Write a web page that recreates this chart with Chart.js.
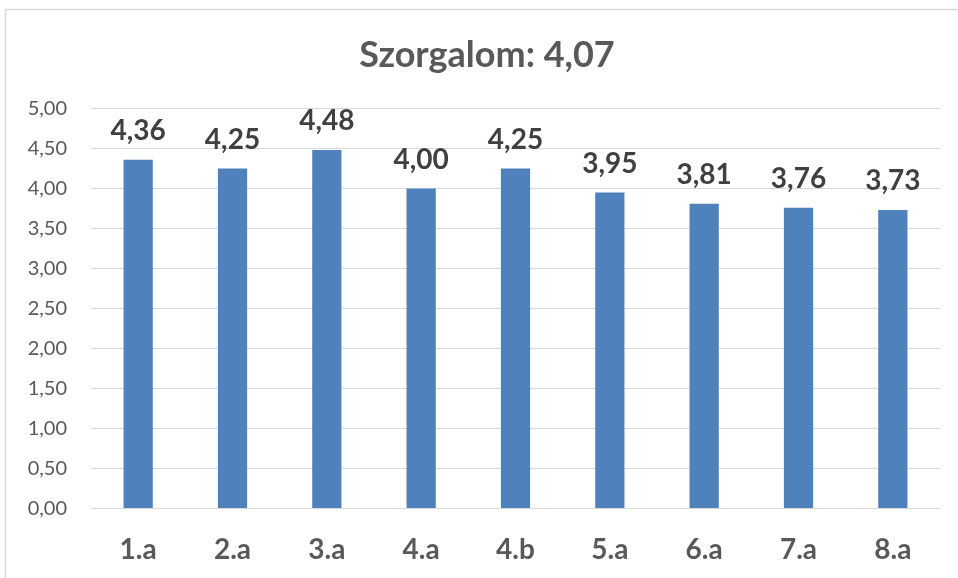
<!DOCTYPE html>
<html>
<head>
<meta charset="utf-8">
<script src="https://cdn.jsdelivr.net/npm/chart.js@4"></script>
<style>
html,body{margin:0;padding:0;background:#fff;}
#wrap{position:relative;width:958px;height:578px;}
</style>
</head>
<body>
<div id="wrap"><canvas id="c" width="958" height="578"></canvas></div>
<script>
const categories = ["1.a","2.a","3.a","4.a","4.b","5.a","6.a","7.a","8.a"];
const values = [4.36, 4.25, 4.48, 4.00, 4.25, 3.95, 3.81, 3.76, 3.73];
const titleText = "Szorgalom: 4,07";
const yTicks = [0,0.5,1,1.5,2,2.5,3,3.5,4,4.5,5];

const fmt = v => v.toFixed(2).replace('.', ',');

const frame = {
  id: 'frame',
  beforeDraw(chart) {
    const ctx = chart.ctx;
    ctx.save();
    ctx.fillStyle = '#fff';
    ctx.fillRect(0,0,chart.width,chart.height);
    ctx.strokeStyle = '#d9d9d9';
    ctx.lineWidth = 1.5;
    ctx.beginPath();
    ctx.moveTo(5.5, chart.height);
    ctx.lineTo(5.5, 9.5);
    ctx.lineTo(chart.width, 9.5);
    ctx.stroke();
    // title
    ctx.font = 'bold 36px Lato';
    ctx.fillStyle = '#595959';
    ctx.textAlign = 'center';
    ctx.textBaseline = 'alphabetic';
    ctx.fillText(titleText, 487, 66.5);
    ctx.restore();
  }
};

const labels = {
  id: 'labels',
  afterDatasetsDraw(chart) {
    const ctx = chart.ctx;
    const meta = chart.getDatasetMeta(0);
    ctx.save();
    ctx.font = 'bold 28px Lato';
    ctx.fillStyle = '#404040';
    ctx.textAlign = 'center';
    ctx.textBaseline = 'alphabetic';
    meta.data.forEach((bar, i) => {
      ctx.fillText(fmt(values[i]), bar.x, bar.y - 20);
    });
    ctx.restore();
  }
};

new Chart(document.getElementById('c'), {
  type: 'bar',
  data: {
    labels: categories,
    datasets: [{
      data: values,
      backgroundColor: '#4f81bd',
      borderWidth: 0,
      barPercentage: 1,
      categoryPercentage: 0.31
    }]
  },
  options: {
    responsive: false,
    animation: false,
    devicePixelRatio: 1,
    layout: { padding: { left: 0, right: 18, top: 108.5, bottom: 0 } },
    plugins: {
      legend: { display: false },
      tooltip: { enabled: false },
      title: { display: false }
    },
    scales: {
      x: {
        grid: { display: false, drawTicks: false },
        border: { display: false },
        ticks: {
          color: '#595959',
          font: { family: 'Lato', size: 28, weight: 'bold' },
          padding: 25
        },
        afterFit(s) { s.height = 69.5; }
      },
      y: {
        min: 0, max: 5,
        afterBuildTicks(s) { s.ticks = yTicks.map(v => ({ value: v })); },
        grid: { color: '#d9d9d9', lineWidth: 1, drawTicks: false },
        border: { display: false },
        ticks: {
          color: '#595959',
          font: { family: 'Lato', size: 20 },
          padding: 24,
          callback: v => fmt(v)
        },
        afterFit(s) { s.width = 91; }
      }
    }
  },
  plugins: [frame, labels]
});
</script>
</body>
</html>
